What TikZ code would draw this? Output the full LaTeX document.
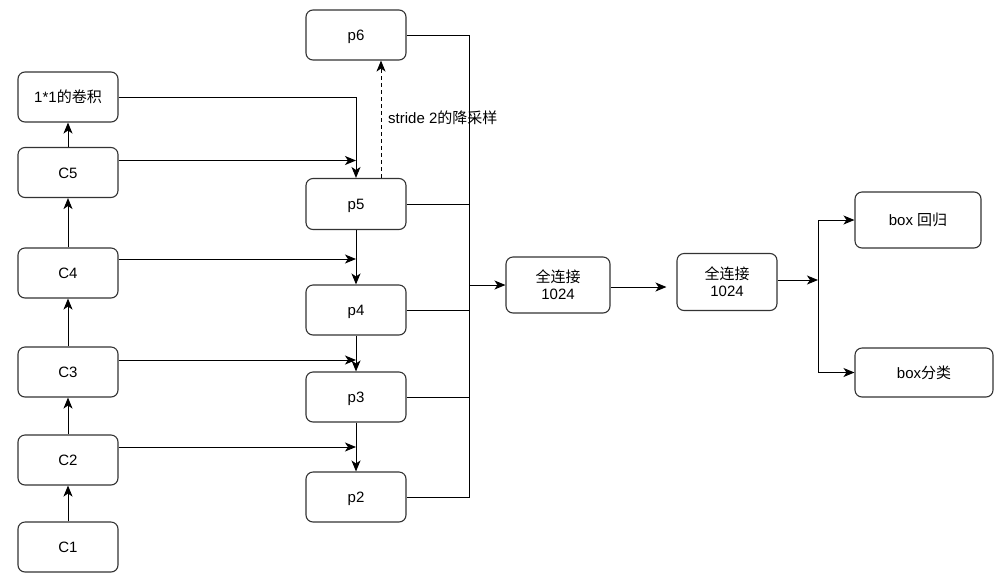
\documentclass[tikz,border=0pt]{standalone}
\usepackage{fontspec}
\setmainfont{Liberation Sans}
\newfontfamily\cjk{Noto Sans CJK SC}
\usetikzlibrary{arrows.meta}
\begin{document}
\begin{tikzpicture}[x=1pt,y=-1pt,
  box/.style={draw=black!80, line width=1.1pt, rounded corners=7pt,
    minimum width=100pt, minimum height=50pt, inner sep=0pt,
    text height=14pt, text depth=3pt,
    font=\fontsize{15}{17}\selectfont},
  box2/.style={box, text height=, text depth=, align=center},
  link/.style={line width=1pt, -{Stealth[length=11pt,width=9pt,inset=3pt]}},
  wire/.style={line width=1pt}]
\useasboundingbox (0,0) rectangle (1006,582);
% backbone
\node[box] (c1) at (68,547) {C1};
\node[box] (c2) at (68,460) {C2};
\node[box] (c3) at (68,372) {C3};
\node[box] (c4) at (68,273) {C4};
\node[box] (c5) at (68,172.5) {C5};
\node[box] (conv) at (68,97) {1*1{\cjk 的卷积}};
% pyramid
\node[box] (p6) at (356,35) {p6};
\node[box, minimum height=51pt] (p5) at (356,204) {p5};
\node[box] (p4) at (356,310) {p4};
\node[box] (p3) at (356,397) {p3};
\node[box] (p2) at (356,497) {p2};
% heads
\node[box2, minimum width=104pt, minimum height=56pt] (fc1) at (558,285) {{\cjk 全连接}\\1024};
\node[box2, minimum height=57pt] (fc2) at (727,282) {{\cjk 全连接}\\1024};
\node[box, minimum width=126pt, minimum height=56pt] (reg) at (918,220) {box {\cjk 回归}};
\node[box, minimum width=138pt, minimum height=49pt] (cls) at (924,372.5) {box{\cjk 分类}};
\coordinate (bus) at (469,0);
\coordinate (split) at (818,280);
% bottom-up
\draw[link] (c1) -- (c2);
\draw[link] (c2) -- (c3);
\draw[link] (c3) -- (c4);
\draw[link] (c4) -- (c5);
\draw[link] (c5) -- (conv);
% lateral
\draw[link] (conv.east) -| (p5.north);
\draw[link] ([yshift=12pt]c5.east) -- ([yshift=12pt]c5.east -| p5.north);
\draw[link] ([yshift=14pt]c4.east) -- ([yshift=14pt]c4.east -| p4.north);
\draw[link] ([yshift=12pt]c3.east) -- ([yshift=12pt]c3.east -| p3.north);
\draw[link] ([yshift=13pt]c2.east) -- ([yshift=13pt]c2.east -| p2.north);
% top-down
\draw[link] (p5) -- (p4);
\draw[link] (p4) -- (p3);
\draw[link] (p3) -- (p2);
% downsample
\draw[link, dash pattern=on 4pt off 3pt] ([xshift=25pt]p5.north) -- ([xshift=25pt]p6.south);
\node[anchor=west, inner sep=0pt, font=\fontsize{15}{17}\selectfont] (lbl) at (388,118) {stride 2{\cjk 的降采样}};
% bus
\draw[wire] (p6.east) -- (p6.east -| bus) |- (p2.east);
\draw[wire] (p5.east) -- (p5.east -| bus);
\draw[wire] (p4.east) -- (p4.east -| bus);
\draw[wire] (p3.east) -- (p3.east -| bus);
\draw[link] (fc1.west -| bus) -- (fc1.west);
% heads
\draw[link] ([yshift=-2pt]fc1.east) -- ([xshift=-10pt,yshift=-2pt]fc2.west |- fc1.east);
\draw[link] (fc2.east |- split) -- (split);
\draw[link] (split) |- (reg.west);
\draw[link] (split) |- (cls.west);
\end{tikzpicture}
\end{document}
